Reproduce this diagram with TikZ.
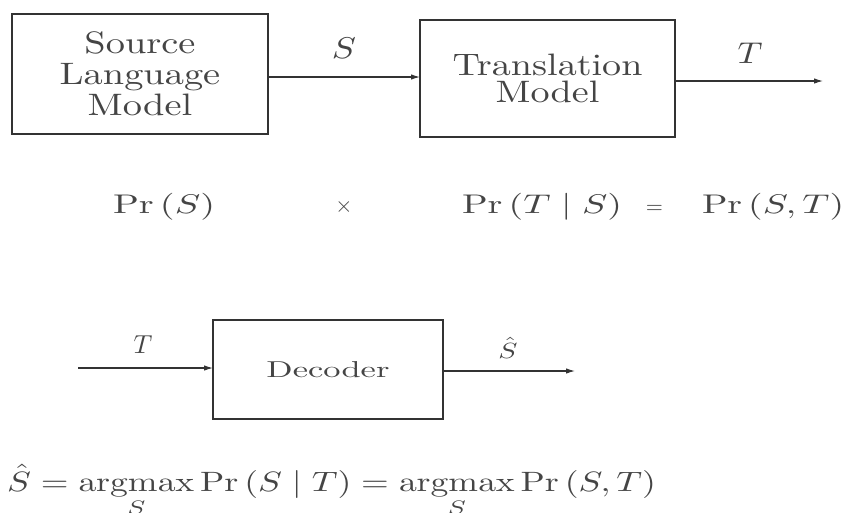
\documentclass[tikz,border=0pt]{standalone}
\usepackage{amsmath}
\usepackage{graphicx}
\usetikzlibrary{arrows.meta}
\newcommand\fitw[3]{\resizebox{#1}{#2\height}{#3}}
\newcommand\stx[3]{\scalebox{#1}[#2]{#3}}
\definecolor{ink}{gray}{0.2}
\definecolor{txtink}{gray}{0.27}
\begin{document}
\begin{tikzpicture}[x=1pt,y=-1pt,
  every node/.style={text=txtink, inner sep=0pt, outer sep=0pt},
  blockbox/.style={draw=ink, line width=1.6pt, align=center},
  conn/.style={draw=ink, line width=1.1pt, -{Latex[length=9pt,width=5.5pt]}}]
\useasboundingbox (0,0) rectangle (847,512);

% top row
\node[blockbox, font=\fontsize{10}{31}\selectfont, minimum width=256pt, minimum height=120pt] (src) at (140,74)
  {\stx{3.84}{3.1}{Source}\\\stx{3.84}{3.1}{Language}\\\stx{3.84}{3.1}{Model}};
\node[blockbox, font=\fontsize{10}{27}\selectfont, minimum width=255pt, minimum height=117pt] (trans) at (547.5,78.5)
  {\stx{3.81}{3.1}{Translation}\\\stx{3.81}{3.1}{Model}};
\coordinate (s1) at ([yshift=-3pt]src.east);
\draw[conn] (s1) -- (s1 -| trans.west);
\coordinate (tout) at (823,81);
\draw[conn] (trans.east |- tout) -- (tout);
\node[anchor=base] (lS) at (344,58) {\stx{3.6}{3.0}{$S$}};
\node[anchor=base] (lT) at (750,63) {\stx{3.45}{3.0}{$T$}};

% middle row
\node[anchor=base west] (prs) at (113,213) {\fitw{102pt}{2.7}{$\Pr\,(S)$}};
\node[anchor=base] (times) at (344,212.5) {\stx{2.2}{2.2}{$\times$}};
\node[anchor=base west] (prts) at (462,213) {\fitw{160pt}{2.7}{$\Pr\,(T\mid S)$}};
\node[anchor=base] (peq) at (654.5,213) {\stx{2.2}{2.2}{$=$}};
\node[anchor=base west] (pst) at (702,213) {\fitw{142pt}{2.7}{$\Pr\,(S,T)$}};

% decoder
\node[blockbox, minimum width=230pt, minimum height=99pt] (dec) at (328,369.5)
  {\fitw{123pt}{2.3}{Decoder}};
\coordinate (tin) at (78,368);
\draw[conn] (tin) -- (tin -| dec.west);
\coordinate (sout) at (575,371);
\draw[conn] (dec.east |- sout) -- (sout);
\node[anchor=base] (lT2) at (143,353) {\stx{2.6}{2.6}{$T$}};
\node[anchor=base] (lS2) at (508,358) {\stx{2.86}{2.2}{$\hat S$}};

% bottom formula
\node[anchor=base west] (argf) at (7,491)
  {\fitw{649pt}{2.8}{$\displaystyle \hat S = \operatorname*{argmax}_S \Pr\,(S \mid T) = \operatorname*{argmax}_S \Pr\,(S,T)$}};
\end{tikzpicture}
\end{document}
